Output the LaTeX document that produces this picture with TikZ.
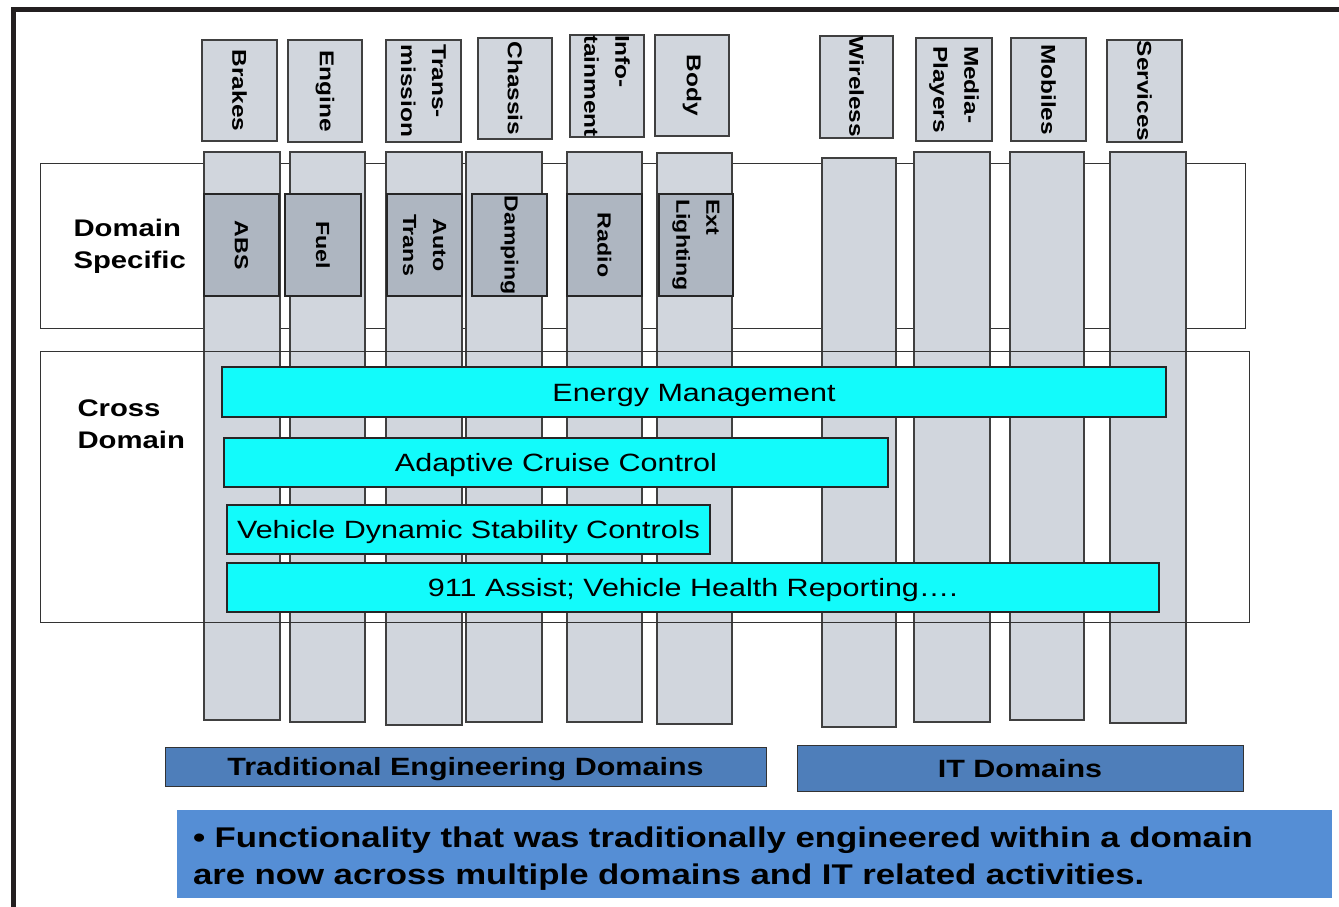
\documentclass[tikz,border=0pt]{standalone}
\usepackage{fontspec}
\setmainfont[FakeStretch=1.22]{Liberation Sans}
\definecolor{colgray}{HTML}{D1D6DD}
\definecolor{dsgray}{HTML}{AEB6C1}
\definecolor{cyanbar}{HTML}{12FBFB}
\definecolor{bluebar}{HTML}{4E7EBA}
\definecolor{bluebox}{HTML}{558ED5}
\definecolor{framecol}{HTML}{231F20}
\begin{document}
\begin{tikzpicture}[x=1pt,y=-1pt,
  colbar/.style={draw=black!75, line width=1.2pt, fill=colgray, inner sep=0pt, outer sep=0pt},
  hdr/.style={colbar, rotate=-90, align=left, font=\bfseries\fontsize{20}{31}\selectfont},
  dsbox/.style={draw=black!85, line width=1.2pt, fill=dsgray, inner sep=0pt, rotate=-90, align=left, font=\bfseries\fontsize{19}{30}\selectfont},
  areaframe/.style={draw=black!80, line width=1pt, inner sep=0pt},
  sidelabel/.style={anchor=west, align=left, font=\bfseries\fontsize{24}{32}\selectfont},
  cyanbox/.style={draw=black!85, line width=1.3pt, fill=cyanbar, inner sep=0pt, text height=18pt, text depth=0pt, font=\fontsize{25}{28}\selectfont},
  groupbar/.style={draw=black!80, line width=1pt, fill=bluebar, inner sep=0pt, text height=18pt, text depth=0pt, font=\bfseries\fontsize{25}{28}\selectfont},
  notebox/.style={fill=bluebox, inner xsep=16pt, inner ysep=0pt, align=left, font=\bfseries\fontsize{28.5}{37}\selectfont}
]
\useasboundingbox (0,0) rectangle (1339,907);
\fill[white] (0,0) rectangle (1339,907);

% outer frame
\draw[framecol, line width=5pt] (13.5,907) -- (13.5,9.5) -- (1339,9.5);

% domain specific frame (behind columns)
\node[areaframe, minimum width=1205pt, minimum height=165pt] (dsframe) at (642.5,245.5) {};

% long columns
\node[colbar, minimum width=76pt, minimum height=568pt] (c1) at (242,436) {};
\node[colbar, minimum width=75pt, minimum height=570pt] (c2) at (327.5,437) {};
\node[colbar, minimum width=76pt, minimum height=573pt] (c3) at (424,438.5) {};
\node[colbar, minimum width=76pt, minimum height=570pt] (c4) at (504,437) {};
\node[colbar, minimum width=75pt, minimum height=570pt] (c5) at (604.5,437) {};
\node[colbar, minimum width=75pt, minimum height=571pt] (c6) at (694.5,438.5) {};
\node[colbar, minimum width=74pt, minimum height=569pt] (c7) at (859,442.5) {};
\node[colbar, minimum width=76pt, minimum height=570pt] (c8) at (952,437) {};
\node[colbar, minimum width=74pt, minimum height=568pt] (c9) at (1047,436) {};
\node[colbar, minimum width=76pt, minimum height=571pt] (c10) at (1148,437.5) {};

% header boxes
\node[hdr, minimum width=101pt, minimum height=75pt] (hBrakes) at (239.5,90.5) {Brakes};
\node[hdr, minimum width=102pt, minimum height=74pt] (hEngine) at (325,91) {Engine};
\node[hdr, minimum width=102pt, minimum height=75pt] (hTrans) at (423.5,91) {Trans-\\mission};
\node[hdr, minimum width=101pt, minimum height=74pt] (hChassis) at (515,88.5) {Chassis};
\node[hdr, minimum width=102pt, minimum height=74pt] (hInfo) at (607,86) {Info-\\tainment};
\node[hdr, minimum width=101pt, minimum height=74pt] (hBody) at (692,85.5) {Body};
\node[hdr, minimum width=102pt, minimum height=73pt] (hWireless) at (856.5,87) {Wireless};
\node[hdr, minimum width=103pt, minimum height=76pt] (hMedia) at (954,89.5) {Media-\\Players};
\node[hdr, minimum width=103pt, minimum height=75pt] (hMobiles) at (1048.5,89.5) {Mobiles};
\node[hdr, minimum width=102pt, minimum height=75pt] (hServices) at (1144.5,91) {Services};

% cross domain frame (over columns)
\node[areaframe, minimum width=1209pt, minimum height=271pt] (cdframe) at (644.5,486.5) {};

% domain specific boxes
\node[dsbox, minimum width=102pt, minimum height=75pt] (dABS) at (241.5,245) {ABS};
\node[dsbox, minimum width=102pt, minimum height=76pt] (dFuel) at (323,245) {Fuel};
\node[dsbox, minimum width=102pt, minimum height=75pt, align=center] (dAuto) at (424.5,245) {Auto\\Trans};
\node[dsbox, minimum width=102pt, minimum height=75pt] (dDamp) at (509.5,245) {Damping};
\node[dsbox, minimum width=102pt, minimum height=75pt] (dRadio) at (604.5,245) {Radio};
\node[dsbox, minimum width=102pt, minimum height=74pt] (dExt) at (696,245) {Ext\\Lighting};

% side labels
\node[sidelabel] (lDS) at (70,246) {Domain\\Specific};
\node[sidelabel] (lCD) at (74,424) {Cross\\Domain};

% cross domain bars
\node[cyanbox, minimum width=944pt, minimum height=50pt] (energy) at (694,392) {Energy Management};
\node[cyanbox, minimum width=664pt, minimum height=49pt] (acc) at (556,462.5) {Adaptive Cruise Control};
\node[cyanbox, minimum width=483pt, minimum height=49pt] (vdsc) at (468.5,529.5) {Vehicle Dynamic Stability Controls};
\node[cyanbox, minimum width=932pt, minimum height=49pt] (assist) at (693,587.5) {911 Assist; Vehicle Health Reporting\ldots.};

% group bars
\node[groupbar, minimum width=601pt, minimum height=39pt] (trad) at (465.5,766.5) {Traditional Engineering Domains};
\node[groupbar, minimum width=446pt, minimum height=46pt] (itd) at (1020,768) {IT Domains};

% note
\node[notebox, text width=1123pt, minimum height=88pt] (note) at (754.5,854) {\rule{0pt}{29pt}• Functionality that was traditionally engineered within a domain\\are now across multiple domains and IT related activities.};
\end{tikzpicture}
\end{document}
